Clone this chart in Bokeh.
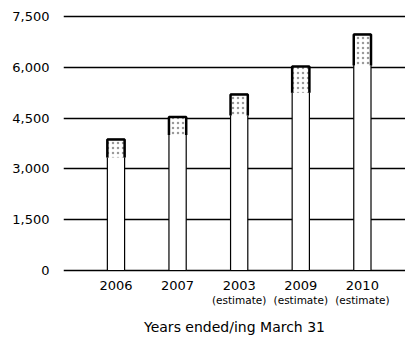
from bokeh.plotting import figure
from bokeh.models import FixedTicker, NumeralTickFormatter, LinearAxis, Range1d, ColumnDataSource
from bokeh.embed import file_html
from bokeh.resources import INLINE

years = ["2006", "2007", "2003", "2009", "2010"]
sublabels = ["", "", "(estimate)", "(estimate)", "(estimate)"]
values = [3870, 4530, 5200, 6020, 6970]
cap_heights = [530, 530, 620, 770, 915]
y_ticks = [0, 1500, 3000, 4500, 6000, 7500]
x_title = "Years ended/ing March 31"

FONT = "DejaVu Sans"
xs = list(range(len(years)))
bar_w = 0.28

p = figure(width=405, height=337, x_range=Range1d(-0.852, 4.70), y_range=Range1d(-59, 7677),
           output_backend="svg", toolbar_location=None,
           min_border_left=63, min_border_right=0, min_border_top=10, min_border_bottom=65)
p.outline_line_color = None
p.background_fill_color = "white"
p.border_fill_color = "white"

# grid
p.xgrid.visible = False
p.ygrid.ticker = FixedTicker(ticks=y_ticks)
p.ygrid.grid_line_color = "black"
p.ygrid.grid_line_width = 1.6

# y axis
p.yaxis.ticker = FixedTicker(ticks=y_ticks)
p.yaxis.formatter = NumeralTickFormatter(format="0,0")
p.yaxis.axis_line_color = None
p.yaxis.major_tick_line_color = None
p.yaxis.minor_tick_line_color = None
p.yaxis.major_label_standoff = 8
p.yaxis.major_label_text_font = FONT
p.yaxis.major_label_text_font_size = "13px"
p.yaxis.major_label_text_color = "black"

# x axis (years)
xa = p.xaxis[0]
xa.ticker = FixedTicker(ticks=xs)
xa.major_label_overrides = {i: y for i, y in zip(xs, years)}
xa.axis_line_color = None
xa.major_tick_line_color = None
xa.minor_tick_line_color = None
xa.major_label_standoff = 2
xa.major_label_text_font = FONT
xa.major_label_text_font_size = "13px"
xa.major_label_text_color = "black"

# second x axis for (estimate)
xa2 = LinearAxis(ticker=FixedTicker(ticks=xs),
                 major_label_overrides={i: s for i, s in zip(xs, sublabels)})
xa2.axis_line_color = None
xa2.major_tick_line_color = None
xa2.minor_tick_line_color = None
xa2.major_label_standoff = -5
xa2.major_label_text_font = FONT
xa2.major_label_text_font_size = "10.5px"
xa2.major_label_text_color = "black"
xa2.axis_label = x_title
xa2.axis_label_text_font = FONT
xa2.axis_label_text_font_size = "14px"
xa2.axis_label_text_font_style = "normal"
xa2.axis_label_text_color = "black"
xa2.axis_label_standoff = 10
p.add_layout(xa2, "below")

# bars
src = ColumnDataSource(dict(x=xs, top=values,
                            cap_bottom=[v - c for v, c in zip(values, cap_heights)]))
p.vbar(x="x", top="top", bottom=0, width=bar_w, source=src,
       fill_color="white", line_color="black", line_width=1.2)
p.vbar(x="x", top="top", bottom="cap_bottom", width=bar_w, source=src,
       fill_color="white", line_color=None, hatch_pattern=".", hatch_color="#9a9a9a",
       hatch_scale=5, hatch_weight=1)
cap_xs = [[x - bar_w / 2, x - bar_w / 2, x + bar_w / 2, x + bar_w / 2] for x in xs]
cap_ys = [[v - c, v, v, v - c] for v, c in zip(values, cap_heights)]
p.multi_line(xs=cap_xs, ys=cap_ys, line_color="black", line_width=2.5)

open("out.html", "w").write(file_html(p, INLINE))
